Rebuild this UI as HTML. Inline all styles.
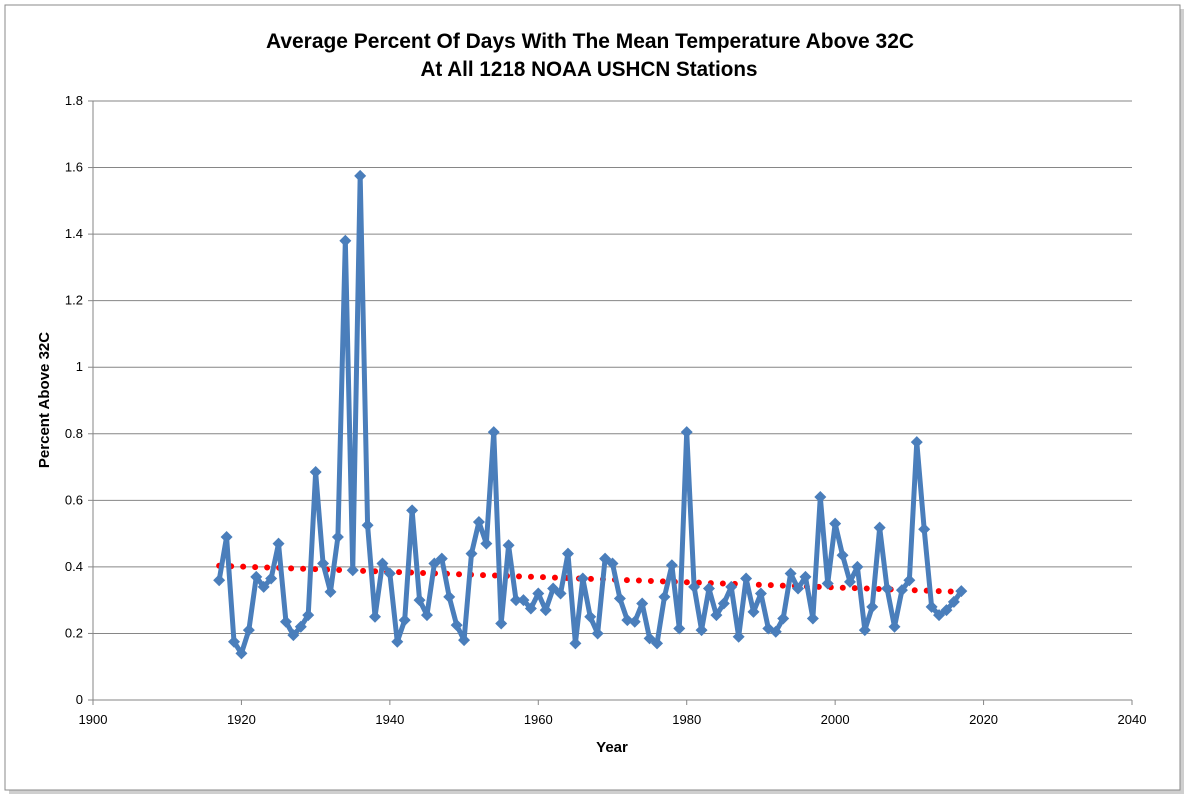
<!DOCTYPE html>
<html><head><meta charset="utf-8"><style>
body{margin:0;background:#fff;width:1189px;height:799px;overflow:hidden;font-family:"Liberation Sans",sans-serif}
</style></head><body>
<svg width="1189" height="799">
<rect x="0" y="0" width="1189" height="799" fill="#fff"/>
<rect x="9" y="9" width="1175" height="785" fill="#cfcfcf"/>
<rect x="5" y="5" width="1175" height="785" fill="#fff" stroke="#8a8a8a" stroke-width="1"/>
<text x="590" y="48" text-anchor="middle" font-size="21" font-weight="bold" fill="#000" textLength="648" lengthAdjust="spacingAndGlyphs">Average Percent Of Days With The Mean Temperature Above 32C</text>
<text x="589" y="76" text-anchor="middle" font-size="21" font-weight="bold" fill="#000" textLength="337" lengthAdjust="spacingAndGlyphs">At All 1218 NOAA USHCN Stations</text>
<text transform="translate(49,400) rotate(-90)" text-anchor="middle" font-size="15" font-weight="bold">Percent Above 32C</text>
<text x="612" y="752" text-anchor="middle" font-size="15" font-weight="bold">Year</text>
<g id="grid"></g><g id="axes"></g><g id="trend"></g><g id="series"></g>
</svg>
<script>
const years=[];for(let y=1917;y<=2017;y++)years.push(y);
const values=[0.36,0.49,0.175,0.14,0.21,0.37,0.34,0.365,0.47,0.235,0.195,0.22,0.255,0.685,0.41,0.325,0.49,1.38,0.39,1.575,0.525,0.25,0.41,0.38,0.175,0.24,0.57,0.30,0.255,0.41,0.425,0.31,0.225,0.18,0.44,0.535,0.47,0.805,0.23,0.465,0.30,0.30,0.275,0.32,0.27,0.335,0.32,0.44,0.17,0.365,0.25,0.20,0.425,0.41,0.305,0.24,0.235,0.29,0.185,0.17,0.31,0.405,0.215,0.805,0.34,0.21,0.335,0.255,0.29,0.34,0.19,0.365,0.265,0.32,0.215,0.205,0.245,0.38,0.335,0.37,0.245,0.61,0.35,0.53,0.435,0.355,0.40,0.21,0.28,0.518,0.335,0.22,0.33,0.36,0.775,0.513,0.28,0.255,0.27,0.295,0.327];
const yTicks=[0,0.2,0.4,0.6,0.8,1,1.2,1.4,1.6,1.8];
const xTicks=[1900,1920,1940,1960,1980,2000,2020,2040];
const X0=93,X1=1132,Y0=700,Y1=101;
const sx=v=>X0+(v-1900)/140*(X1-X0);
const sy=v=>Y0-v/1.8*(Y0-Y1);
const NS="http://www.w3.org/2000/svg";
function mk(tag,attrs,parent){const e=document.createElementNS(NS,tag);for(const k in attrs)e.setAttribute(k,attrs[k]);parent.appendChild(e);return e;}
const grid=document.getElementById('grid'),axes=document.getElementById('axes');
yTicks.forEach(t=>{
 const l=mk('line',{x1:X0,x2:X1,y1:sy(t),y2:sy(t),stroke:'#868686','stroke-width':1},grid);
 
 
 const tx=mk('text',{x:X0-10,y:sy(t)+4,'text-anchor':'end','font-size':13},axes);tx.textContent=String(t);
 
 
 mk('line',{x1:X0-5,x2:X0,y1:sy(t),y2:sy(t),stroke:'#868686'},axes);
});
mk('line',{x1:X0,x2:X0,y1:Y1,y2:Y0,stroke:'#868686'},axes);
xTicks.forEach(t=>{
 mk('line',{x1:sx(t),x2:sx(t),y1:Y0,y2:Y0+5,stroke:'#868686'},axes);
 const tx=mk('text',{x:sx(t),y:Y0+24,'text-anchor':'middle','font-size':13},axes);tx.textContent=String(t);
 
 
});
const n=years.length;let mx=0,my=0;years.forEach((y,i)=>{mx+=y;my+=values[i];});mx/=n;my/=n;
let num=0,den=0;years.forEach((y,i)=>{num+=(y-mx)*(values[i]-my);den+=(y-mx)*(y-mx);});
const slope=num/den,icp=my-slope*mx;
const tr=mk('line',{x1:sx(years[0]),y1:sy(icp+slope*years[0]),x2:sx(years[n-1]),y2:sy(icp+slope*years[n-1]),stroke:'#ff0000','stroke-width':6,'stroke-linecap':'round','stroke-dasharray':'0 12'},document.getElementById('trend'));


const ser=document.getElementById('series');
const pl=mk('polyline',{points:years.map((y,i)=>sx(y)+','+sy(values[i])).join(' '),fill:'none',stroke:'#4a7ebb','stroke-width':5,'stroke-linejoin':'round'},ser);


years.forEach((y,i)=>{
 const cx=sx(y),cy=sy(values[i]);
 const d=mk('polygon',{points:`${cx},${cy-6} ${cx+6},${cy} ${cx},${cy+6} ${cx-6},${cy}`,fill:'#4a7ebb'},ser);
 
 
});
</script>
</body></html>
